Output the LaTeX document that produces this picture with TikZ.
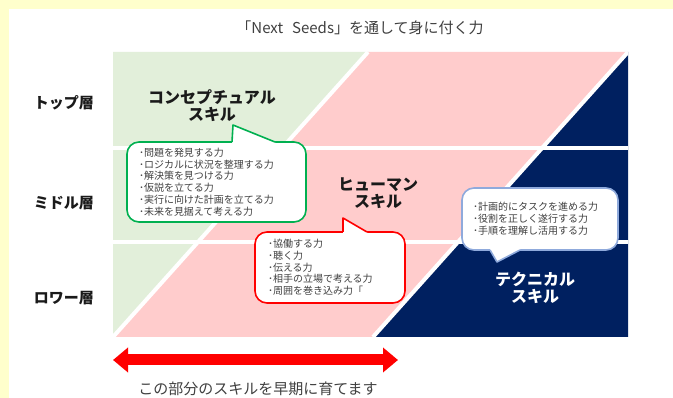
\documentclass[tikz,border=0pt]{standalone}
\usepackage{fontspec}
\usepackage{tikz}
\usetikzlibrary{arrows.meta,calc,positioning}
\newfontfamily\jp{Noto Sans CJK JP}
\definecolor{my_yellow}{RGB}{255, 255, 204}
\definecolor{my_lgreen}{RGB}{226, 239, 218}
\definecolor{my_pink}{RGB}{255, 204, 204}
\definecolor{my_navy}{RGB}{0, 32, 96}
\definecolor{my_green}{RGB}{0, 176, 80}
\definecolor{my_red}{RGB}{255, 0, 0}
\definecolor{my_blue}{RGB}{143, 170, 220}
\definecolor{my_gray}{RGB}{64, 64, 64}
\definecolor{my_black}{RGB}{26, 26, 26}
\tikzset{
  caption/.style = {inner sep=0pt, text=my_gray, font=\jp\fontsize{15}{17}\selectfont},
  layer/.style = {inner sep=0pt, text=my_black, font=\jp\fontsize{15}{17}\selectfont\bfseries},
  skill/.style = {align=center, inner sep=0pt, text=my_black, font=\jp\fontsize{16}{17}\selectfont\bfseries},
  callout/.style = {draw, fill=white, line width=1.6pt, rounded corners=12pt, align=left,
  inner ysep=4pt, text=my_gray, font=\jp\fontsize{10}{11.7}\selectfont},
  call_g/.style = {callout, draw=my_green},
  call_r/.style = {callout, draw=my_red},
  call_b/.style = {callout, draw=my_blue, font=\jp\fontsize{10}{12}\selectfont}
}

\begin{document}
\begin{tikzpicture}[x=1pt,y=-1pt,
        sep_line/.style={draw=white, line width=4pt},
        tail/.style={line width=1.6pt, line join=round}]
  \useasboundingbox (0,0) rectangle (673,398);
  \fill[my_yellow] (0,0) rectangle (673,398);
  \fill[white] (9,9) rectangle (673,398);

  % matrix of layers and skills
  \coordinate (nw) at (113,52);
  \coordinate (ne) at (628,52);
  \coordinate (sw) at (113,337);
  \coordinate (se) at (628,337);
  \coordinate (g_top) at (368,52);
  \coordinate (n_bot) at (373,337);
  \begin{scope}
    \clip (nw) rectangle (se);
    \fill[my_lgreen] (nw) -- (g_top) -- (sw) -- cycle;
    \fill[my_pink] (g_top) -- (ne) -- (n_bot) -- (sw) -- cycle;
    \fill[my_navy] (ne) -- (se) -- (n_bot) -- cycle;
    \draw[sep_line] (113,148.5) -- (628,148.5);
    \draw[sep_line] (113,242) -- (628,242);
    \draw[sep_line] (g_top) -- (sw);
    \draw[sep_line] (ne) -- (n_bot);
  \end{scope}

  \node[caption] (title) at (360,28) {「Next\hspace{9pt}Seeds」を通して身に付く力};
  \node[layer] (top) at (64,103) {トップ層};
  \node[layer] (mid) at (64,203) {ミドル層};
  \node[layer] (low) at (64,298) {ロワー層};

  \node[skill] (concept) at (212,106) {コンセプチュアル\\スキル};
  \node[skill] (human) at (378,193) {ヒューマン\\スキル};
  \node[skill, text=white] (tech) at (535,288) {テクニカル\\スキル};

  % callouts
  \node[call_g, text width=155pt, inner xsep=12pt, minimum height=80pt] (c_concept) at (216.5,182)
    {･問題を発見する力\\･ロジカルに状況を整理する力\\･解決策を見つける力\\･仮説を立てる力\\･実行に向けた計画を立てる力\\･未来を見据えて考える力};
  \coordinate (g_tip) at (233,125);
  \fill[white] (g_tip) -- (232,142) -- (232,146) -- (275,146) -- (275,142) -- cycle;
  \draw[tail, my_green] (232,142) -- (g_tip) -- (275,142);

  \node[call_r, text width=124pt, inner xsep=13pt, minimum height=71pt] (c_human) at (330,267.5)
    {･協働する力\\･聴く力\\･伝える力\\･相手の立場で考える力\\･周囲を巻き込み力「};
  \coordinate (r_tip) at (343,218);
  \fill[white] (r_tip) -- (343,232) -- (343,236) -- (367,236) -- (367,232) -- cycle;
  \draw[tail, my_red] (343,232) -- (r_tip) -- (367,232);

  \node[call_b, text width=134pt, inner xsep=11pt, minimum height=62pt] (c_tech) at (540,219)
    {･計画的にタスクを進める力\\･役割を正しく遂行する力\\･手順を理解し活用する力};
  \coordinate (b_tip) at (497,262);
  \fill[white] (b_tip) -- (490,250) -- (490,246) -- (520,246) -- (520,250) -- cycle;
  \draw[tail, my_blue] (490,250) -- (b_tip) -- (520,250);

  % early phase
  \coordinate (a_l) at (113,360);
  \coordinate (a_r) at (398,360);
  \draw[my_red, line width=11pt, {Triangle[length=15pt,width=24pt]}-{Triangle[length=15pt,width=24pt]}] (a_l) -- (a_r);
  \node[caption] (early) at (258,389) {この部分のスキルを早期に育てます};
\end{tikzpicture}
\end{document}
